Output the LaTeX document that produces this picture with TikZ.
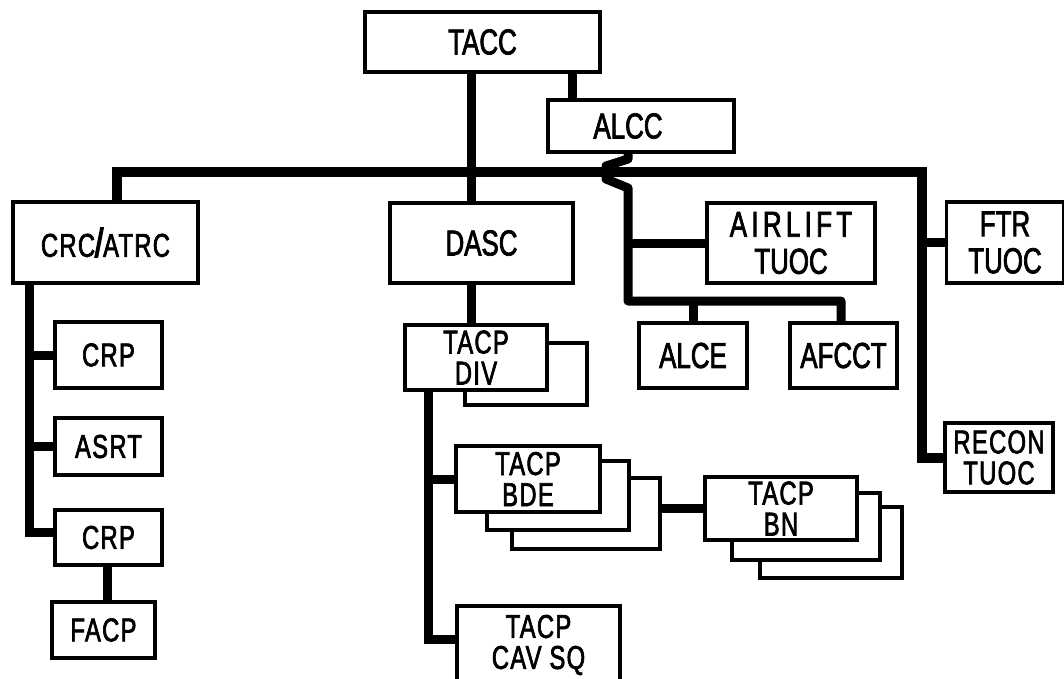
\documentclass[tikz,border=0pt]{standalone}
\usepackage{fontspec}
\setmainfont[FakeStretch=0.72,FakeBold=2]{Liberation Sans}
\usetikzlibrary{backgrounds}
\begin{document}
\begin{tikzpicture}[x=1pt,y=-1pt,
  box/.style={draw, line width=3.2pt, fill=white, inner sep=0pt, align=center,
    font=\fontsize{36}{37}\selectfont},
  sbox/.style={box, font=\fontsize{33}{31}\selectfont\addfontfeature{LetterSpace=4}},
  backbox/.style={draw, line width=3.2pt, fill=white, inner sep=0pt},
  conn/.style={line width=9pt, line join=miter},
  busline/.style={line width=10pt, line join=miter}
]
\useasboundingbox (0,0) rectangle (1064,678);

% --- main nodes
\node[box, minimum width=235pt, minimum height=60pt] (tacc) at (482.5,42) {TACC};
\node[box, minimum width=186pt, minimum height=52pt] (alcc) at (641,126) {ALCC\hspace{26pt}};
\node[sbox, minimum width=185pt, minimum height=81pt] (crc) at (105.5,242.5) {CRC{\fontsize{40}{38}\selectfont\addfontfeature{FakeBold=4}/}ATRC};
\node[box, minimum width=183pt, minimum height=80pt] (dasc) at (481.5,243) {DASC};
\node[box, minimum width=168pt, minimum height=80pt] (airlift) at (791,243) {\addfontfeature{LetterSpace=12}AIRLIFT\\\addfontfeature{LetterSpace=0}TUOC};
\node[box, minimum width=117pt, minimum height=81pt] (ftr) at (1005,242.5) {FTR\\TUOC};
\node[box, minimum width=108pt, minimum height=65pt] (alce) at (693,355.5) {ALCE};
\node[box, minimum width=107pt, minimum height=65pt] (afcct) at (843.5,355.5) {AFCCT};
\node[sbox, minimum width=108pt, minimum height=69pt] (recon) at (999,457.5) {RECON\\TUOC};

% --- left tree
\node[sbox, minimum width=107pt, minimum height=66pt] (crp1) at (108.5,355) {CRP};
\node[sbox, minimum width=107pt, minimum height=57pt] (asrt) at (108.5,446.5) {ASRT};
\node[sbox, minimum width=107pt, minimum height=55pt] (crp2) at (108.5,537.5) {CRP};
\node[sbox, minimum width=103pt, minimum height=56pt] (facp) at (103.5,630) {FACP};

% --- TACP tree (stacked boxes, back first)
\node[backbox, minimum width=122pt, minimum height=62pt] (div2) at (526,374) {};
\node[sbox, minimum width=142pt, minimum height=65pt] (div) at (476,357.5) {TACP\\DIV};

\node[backbox, minimum width=148pt, minimum height=71pt] (bde3) at (586,513.5) {};
\node[backbox, minimum width=142pt, minimum height=69pt] (bde2) at (558,495.5) {};
\node[sbox, minimum width=144pt, minimum height=66pt] (bde) at (528,479) {TACP\\BDE};

\node[backbox, minimum width=142pt, minimum height=71pt] (bn3) at (831,542.5) {};
\node[backbox, minimum width=148pt, minimum height=67pt] (bn2) at (806,526.5) {};
\node[sbox, minimum width=152pt, minimum height=63pt] (bn) at (781,508.5) {TACP\\BN};

\node[sbox, minimum width=163pt, minimum height=78pt] (cav) at (538.5,645) {TACP\\CAV SQ};

% --- coordinates
\coordinate (busL) at (117,172);
\coordinate (busR) at (922,172);
\coordinate (trunk) at (471,172);
\coordinate (alccx) at (572,86);
\coordinate (zx) at (628,159);
\coordinate (zbot) at (628,301);
\coordinate (afj) at (841,301);
\coordinate (lx) at (29,532);
\coordinate (fx) at (107,590);
\coordinate (tx) at (428,400);
\coordinate (cavj) at (428,639);

\begin{scope}[on background layer]
  % main bus
  \draw[busline] (crc.north -| busL) -- (busL) -- (busR) -- (busR |- recon.west) -- (recon.west);
  \draw[conn] (ftr.west) -- (ftr.west -| busR);
  % TACC trunk
  \draw[conn] (tacc.south -| trunk) -- (dasc.north -| trunk);
  \draw[conn] (dasc.south -| trunk) -- (div.north -| trunk);
  % ALCC
  \draw[conn] (tacc.south -| alccx) -- (alcc.north -| alccx);
  \draw[conn, line join=round] (alcc.south -| zx) -- (zx) -- (606,166) -- (606,179) -- (628,188) -- (zbot) -- (afj) -- (afcct.north -| afj);
  \draw[conn] (airlift.west) -- (airlift.west -| zx);
  \draw[conn] (alce.north) -- (alce.north |- zbot);
  % left tree
  \draw[conn] (crc.south -| lx) -- (lx) -- (lx -| crp2.west);
  \draw[conn] (crp1.west) -- (crp1.west -| lx);
  \draw[conn] (asrt.west) -- (asrt.west -| lx);
  \draw[conn] (crp2.south -| fx) -- (facp.north -| fx);
  % TACP tree
  \draw[conn] (div.south -| tx) -- (cavj) -- (cavj -| cav.west);
  \draw[conn] (bde.west) -- (bde.west -| tx);
  \draw[conn] (bde3.east |- bn.west) -- (bn.west);
\end{scope}
\end{tikzpicture}
\end{document}
